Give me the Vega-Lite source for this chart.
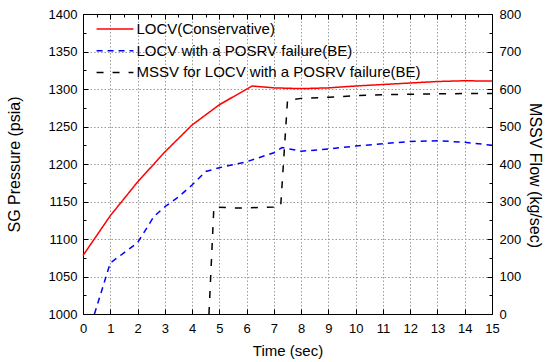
{
  "$schema": "https://vega.github.io/schema/vega-lite/v6.json",
  "width": 409,
  "height": 300,
  "autosize": "none",
  "padding": {"left": 83, "top": 14, "right": 54, "bottom": 48},
  "background": "white",
  "config": {
    "view": {"stroke": null},
    "font": "Liberation Sans",
    "axis": {
      "domainColor": "black", "domainWidth": 1,
      "tickColor": "black", "tickWidth": 1,
      "labelColor": "black", "labelFontSize": 13, "labelFont": "Liberation Sans",
      "titleFont": "Liberation Sans", "titleFontSize": 15, "titleFontWeight": "normal", "titleColor": "black",
      "gridColor": "#9a9a9a", "gridDash": [1.5, 2], "gridWidth": 1
    },
    "legend": {
      "orient": "none", "legendX": 24.5, "legendY": 7.5,
      "symbolType": "M-3,0H3", "symbolSize": 151, "symbolStrokeWidth": 1.5,
      "labelFont": "Liberation Sans", "labelFontSize": 15, "labelColor": "black",
      "labelOffset": 14, "rowPadding": 5.7, "padding": 0, "labelLimit": 400
    }
  },
  "data": {
    "values": [
      {"t": 0, "value": 1078, "q": "p", "series": "LOCV(Conservative)"},
      {"t": 1, "value": 1131, "q": "p", "series": "LOCV(Conservative)"},
      {"t": 2, "value": 1176, "q": "p", "series": "LOCV(Conservative)"},
      {"t": 3, "value": 1216, "q": "p", "series": "LOCV(Conservative)"},
      {"t": 4, "value": 1252, "q": "p", "series": "LOCV(Conservative)"},
      {"t": 5, "value": 1279, "q": "p", "series": "LOCV(Conservative)"},
      {"t": 6.2, "value": 1304, "q": "p", "series": "LOCV(Conservative)"},
      {"t": 7, "value": 1301.5, "q": "p", "series": "LOCV(Conservative)"},
      {"t": 8, "value": 1300.5, "q": "p", "series": "LOCV(Conservative)"},
      {"t": 9, "value": 1301.5, "q": "p", "series": "LOCV(Conservative)"},
      {"t": 10, "value": 1304, "q": "p", "series": "LOCV(Conservative)"},
      {"t": 11, "value": 1306, "q": "p", "series": "LOCV(Conservative)"},
      {"t": 12, "value": 1308, "q": "p", "series": "LOCV(Conservative)"},
      {"t": 13, "value": 1310, "q": "p", "series": "LOCV(Conservative)"},
      {"t": 14, "value": 1311, "q": "p", "series": "LOCV(Conservative)"},
      {"t": 15, "value": 1310.5, "q": "p", "series": "LOCV(Conservative)"},
      {"t": 0.42, "value": 1000, "q": "p", "series": "LOCV with a POSRV failure(BE)"},
      {"t": 1, "value": 1068, "q": "p", "series": "LOCV with a POSRV failure(BE)"},
      {"t": 2, "value": 1095, "q": "p", "series": "LOCV with a POSRV failure(BE)"},
      {"t": 2.6, "value": 1130, "q": "p", "series": "LOCV with a POSRV failure(BE)"},
      {"t": 3, "value": 1143, "q": "p", "series": "LOCV with a POSRV failure(BE)"},
      {"t": 3.5, "value": 1156, "q": "p", "series": "LOCV with a POSRV failure(BE)"},
      {"t": 4, "value": 1172, "q": "p", "series": "LOCV with a POSRV failure(BE)"},
      {"t": 4.5, "value": 1190, "q": "p", "series": "LOCV with a POSRV failure(BE)"},
      {"t": 5, "value": 1195, "q": "p", "series": "LOCV with a POSRV failure(BE)"},
      {"t": 6, "value": 1203, "q": "p", "series": "LOCV with a POSRV failure(BE)"},
      {"t": 7, "value": 1215, "q": "p", "series": "LOCV with a POSRV failure(BE)"},
      {"t": 7.3, "value": 1222, "q": "p", "series": "LOCV with a POSRV failure(BE)"},
      {"t": 8, "value": 1217, "q": "p", "series": "LOCV with a POSRV failure(BE)"},
      {"t": 9, "value": 1220, "q": "p", "series": "LOCV with a POSRV failure(BE)"},
      {"t": 10, "value": 1224, "q": "p", "series": "LOCV with a POSRV failure(BE)"},
      {"t": 11, "value": 1227, "q": "p", "series": "LOCV with a POSRV failure(BE)"},
      {"t": 12, "value": 1230, "q": "p", "series": "LOCV with a POSRV failure(BE)"},
      {"t": 13, "value": 1231, "q": "p", "series": "LOCV with a POSRV failure(BE)"},
      {"t": 14, "value": 1229, "q": "p", "series": "LOCV with a POSRV failure(BE)"},
      {"t": 15, "value": 1225, "q": "p", "series": "LOCV with a POSRV failure(BE)"},
      {"t": 4.62, "value": 0, "q": "f", "series": "MSSV for LOCV with a POSRV failure(BE)"},
      {"t": 4.8, "value": 285, "q": "f", "series": "MSSV for LOCV with a POSRV failure(BE)"},
      {"t": 5.5, "value": 283, "q": "f", "series": "MSSV for LOCV with a POSRV failure(BE)"},
      {"t": 6, "value": 283, "q": "f", "series": "MSSV for LOCV with a POSRV failure(BE)"},
      {"t": 7, "value": 285, "q": "f", "series": "MSSV for LOCV with a POSRV failure(BE)"},
      {"t": 7.25, "value": 287, "q": "f", "series": "MSSV for LOCV with a POSRV failure(BE)"},
      {"t": 7.5, "value": 570, "q": "f", "series": "MSSV for LOCV with a POSRV failure(BE)"},
      {"t": 8, "value": 575, "q": "f", "series": "MSSV for LOCV with a POSRV failure(BE)"},
      {"t": 9, "value": 578, "q": "f", "series": "MSSV for LOCV with a POSRV failure(BE)"},
      {"t": 10, "value": 582, "q": "f", "series": "MSSV for LOCV with a POSRV failure(BE)"},
      {"t": 11, "value": 585, "q": "f", "series": "MSSV for LOCV with a POSRV failure(BE)"},
      {"t": 12, "value": 586, "q": "f", "series": "MSSV for LOCV with a POSRV failure(BE)"},
      {"t": 13, "value": 587, "q": "f", "series": "MSSV for LOCV with a POSRV failure(BE)"},
      {"t": 14, "value": 588, "q": "f", "series": "MSSV for LOCV with a POSRV failure(BE)"},
      {"t": 15, "value": 588, "q": "f", "series": "MSSV for LOCV with a POSRV failure(BE)"}
    ]
  },
  "layer": [
    {
      "transform": [{"filter": "datum.q === 'p'"}],
      "mark": {"type": "line", "strokeWidth": 1.5},
      "encoding": {
        "x": {
          "field": "t", "type": "quantitative",
          "scale": {"domain": [0, 15], "nice": false},
          "axis": {
            "orient": "bottom", "title": "Time (sec)", "format": "d",
            "values": [0,0.5,1,1.5,2,2.5,3,3.5,4,4.5,5,5.5,6,6.5,7,7.5,8,8.5,9,9.5,10,10.5,11,11.5,12,12.5,13,13.5,14,14.5,15],
            "labelExpr": "datum.value % 1 === 0 ? datum.label : ''",
            "tickSize": {"condition": {"test": "datum.value % 1 !== 0", "value": -3}, "value": -5},
            "gridOpacity": {"condition": {"test": "datum.value % 1 !== 0", "value": 0}, "value": 1},
            "labelPadding": 13, "titlePadding": 8, "labelFlush": false, "labelOverlap": false
          }
        },
        "y": {
          "field": "value", "type": "quantitative",
          "scale": {"domain": [1000, 1400], "nice": false},
          "axis": {
            "title": "SG Pressure (psia)", "titleFontSize": 16,
            "values": [1000,1025,1050,1075,1100,1125,1150,1175,1200,1225,1250,1275,1300,1325,1350,1375,1400],
            "labelExpr": "datum.value % 50 === 0 ? datum.label : ''",
            "format": "d",
            "tickSize": {"condition": {"test": "datum.value % 50 !== 0", "value": -3}, "value": -5},
            "gridOpacity": {"condition": {"test": "datum.value % 50 !== 0", "value": 0}, "value": 1},
            "labelPadding": 11, "titlePadding": 26, "labelFlush": false, "labelOverlap": false
          }
        },
        "color": {
          "field": "series", "type": "nominal",
          "scale": {
            "domain": ["LOCV(Conservative)", "LOCV with a POSRV failure(BE)", "MSSV for LOCV with a POSRV failure(BE)"],
            "range": ["#ff0000", "#0000ff", "#000000"]
          },
          "legend": {"title": null}
        },
        "strokeDash": {
          "field": "series", "type": "nominal",
          "scale": {
            "domain": ["LOCV(Conservative)", "LOCV with a POSRV failure(BE)", "MSSV for LOCV with a POSRV failure(BE)"],
            "range": [[1, 0], [6, 5], [7, 9]]
          },
          "legend": {"title": null}
        }
      }
    },
    {
      "transform": [{"filter": "datum.q === 'f'"}],
      "mark": {"type": "line", "strokeWidth": 1.5},
      "encoding": {
        "x": {
          "field": "t", "type": "quantitative",
          "scale": {"domain": [0, 15], "nice": false},
          "axis": {
            "orient": "top", "title": null, "labels": false, "grid": false,
            "values": [0,0.5,1,1.5,2,2.5,3,3.5,4,4.5,5,5.5,6,6.5,7,7.5,8,8.5,9,9.5,10,10.5,11,11.5,12,12.5,13,13.5,14,14.5,15],
            "tickSize": {"condition": {"test": "datum.value % 1 !== 0", "value": -3}, "value": -5}
          }
        },
        "y": {
          "field": "value", "type": "quantitative",
          "scale": {"domain": [0, 800], "nice": false},
          "axis": {
            "orient": "right", "title": "MSSV Flow (kg/sec)", "grid": false,
            "titleFontSize": 16, "titleY": 161,
            "values": [0,50,100,150,200,250,300,350,400,450,500,550,600,650,700,750,800],
            "labelExpr": "datum.value % 100 === 0 ? datum.label : ''",
            "format": "d",
            "tickSize": {"condition": {"test": "datum.value % 100 !== 0", "value": -3}, "value": -5},
            "labelPadding": 12, "titlePadding": 6, "labelFlush": false, "labelOverlap": false
          }
        },
        "color": {"field": "series", "type": "nominal", "legend": {"title": null}},
        "strokeDash": {"field": "series", "type": "nominal", "legend": {"title": null}}
      }
    }
  ],
  "resolve": {"scale": {"y": "independent"}, "axis": {"x": "independent"}}
}
